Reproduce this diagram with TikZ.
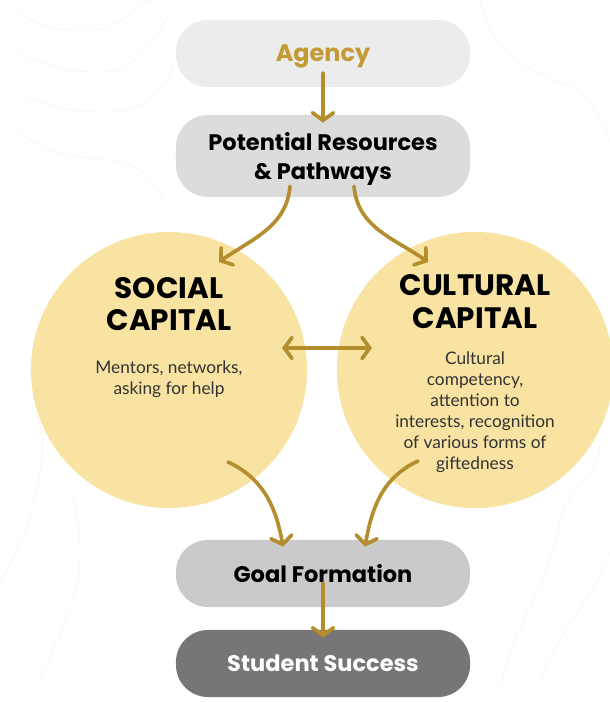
\documentclass[tikz,border=0pt]{standalone}
\usepackage{fontspec}
\setmainfont{Poppins}
\newfontfamily\testo{Lato}
\usetikzlibrary{arrows.meta,calc}

\definecolor{oro}{HTML}{B48D2D}
\definecolor{orotesto}{HTML}{C39A34}
\definecolor{giallo}{HTML}{F8E3A2}
\definecolor{grigioA}{HTML}{ECECEC}
\definecolor{grigioB}{HTML}{DCDCDC}
\definecolor{grigioC}{HTML}{CACACA}
\definecolor{grigioD}{HTML}{767676}

\tikzset{
  capsula/.style={rounded corners=0.8cm, minimum width=7.35cm, minimum height=1.675cm,
    text depth=0pt, align=center, font=\bfseries\fontsize{16}{20}\selectfont},
  cerchio/.style={circle, fill=giallo, minimum size=6.9cm, inner sep=0pt},
  titolo/.style={align=center, font=\bfseries\fontsize{21}{23}\selectfont},
  descr/.style={align=center, text=black!80, font=\testo\fontsize{12.3}{15}\selectfont},
  freccia/.style={draw=oro, line width=2.6pt, line cap=round,
    -{Straight Barb[length=5.5pt,width=15pt,line cap=round]}},
  doppia/.style={freccia, {Straight Barb[length=5.5pt,width=15pt,line cap=round]}-{Straight Barb[length=5.5pt,width=15pt,line cap=round]}}
}

\begin{document}
\begin{tikzpicture}[x=0.025cm, y=0.025cm]
    \useasboundingbox[fill=white] (0,0) rectangle (610,702);

    % Sfondo
    \begin{scope}[black!3, line width=0.5pt]
        \draw (20,690) to[out=-40, in=180] (90,672) to[out=0, in=-150] (150,702);
        \draw (20,650) to[out=-30, in=180] (100,630) to[out=0, in=-120] (170,690);
        \draw (20,610) to[out=-30, in=180] (110,590) to[out=0, in=-110] (175,640);
        \draw (20,570) to[out=-40, in=170] (120,540) to[out=-10, in=120] (165,500);
        \draw (0,120) to[out=60, in=-100] (40,230) to[out=80, in=-60] (30,300);
        \draw (40,20) to[out=70, in=-90] (80,150) to[out=90, in=-70] (70,210);
        \draw (500,10) to[out=80, in=-100] (560,180) to[out=80, in=-90] (600,260);
        \draw (540,20) to[out=70, in=-110] (610,150);
        \draw (480,702) to[out=-80, in=160] (560,620) to[out=-20, in=110] (610,560);
    \end{scope}

    % Capsule
    \node[capsula, fill=grigioA, text=orotesto, font=\bfseries\fontsize{17}{20}\selectfont] (agency) at (323,648.5) {Agency};
    \node[capsula, fill=grigioB, minimum height=2.05cm] (risorse) at (323,546) {Potential Resources\\\& Pathways};
    \node[capsula, fill=grigioC] (goal) at (323,128.5) {Goal Formation};
    \node[capsula, fill=grigioD, text=white] (success) at (323,38.5) {Student Success};

    % Cerchi
    \node[cerchio] (social) at (169,332) {};
    \node[cerchio] (cultural) at (475,332) {};

    \node[titolo] (socialtit) at ($(social)+(0,66)$) {SOCIAL\\CAPITAL};
    \node[descr] (socialdes) at ($(social)+(0,-9.5)$) {Mentors, networks,\\asking for help};
    \node[titolo] (culturaltit) at ($(cultural)+(0,68.5)$) {CULTURAL\\CAPITAL};
    \node[descr] (culturaldes) at ($(cultural)+(0,-42)$) {Cultural\\competency,\\attention to\\interests, recognition\\of various forms of\\giftedness};

    % Frecce
    \draw[freccia] ($(agency.south)+(0,14)$) -- ($(risorse.north)+(0,-8)$);
    \draw[freccia] ($(risorse.south)+(-33,11)$) to[out=-95, in=35] ($(social)+(50,108)$);
    \draw[freccia] ($(risorse.south)+(31,11)$) to[out=-85, in=145] ($(cultural)+(-47,108)$);
    \draw[doppia] ($(social)+(113,22)$) -- ($(cultural)+(-103,22)$);
    \draw[freccia] ($(social)+(59,-92)$) to[out=-25, in=100] ($(goal.north)+(-40,-7)$);
    \draw[freccia] ($(cultural)+(-57,-91)$) to[out=205, in=80] ($(goal.north)+(42,-7)$);
    \draw[freccia] ($(goal.south)+(0,24)$) -- ($(success.north)+(0,-8)$);
\end{tikzpicture}
\end{document}
